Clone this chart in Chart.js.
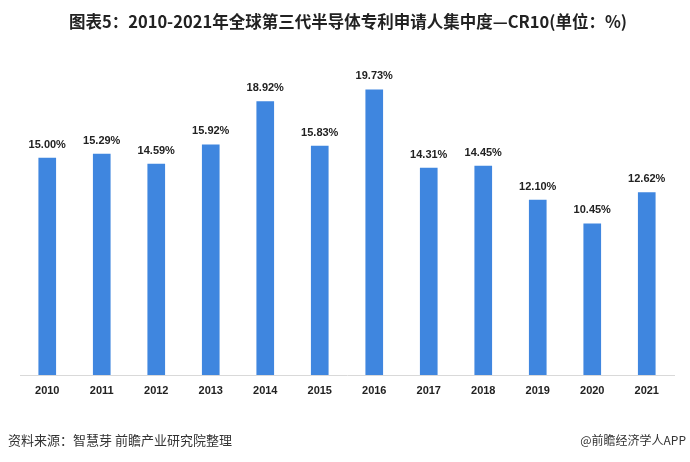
<!DOCTYPE html>
<html>
<head>
<meta charset="utf-8">
<script src="https://cdn.jsdelivr.net/npm/chart.js@4.4.0/dist/chart.umd.min.js"></script>
<style>
  html, body { margin: 0; padding: 0; background: #fff; }
  #wrap { position: relative; width: 690px; height: 462px; overflow: hidden; }
  #title { position: absolute; top: 9px; left: 0; width: 696px; text-align: center;
    font-family: "Noto Sans CJK SC", sans-serif; font-weight: bold; font-size: 16.5px; color: #222; white-space: nowrap; }
  #src { position: absolute; top: 430px; left: 8px; font-family: "Noto Sans CJK SC", sans-serif; font-size: 13px; color: #333; }
  #app { position: absolute; top: 431px; right: 4px; font-family: "Noto Sans CJK SC", sans-serif; font-size: 12px; color: #333; }
  canvas { position: absolute; top: 0; left: 0; }
</style>
</head>
<body>
<div id="wrap">
  <canvas id="c" width="690" height="462"></canvas>
  <div id="title">图表5：2010-2021年全球第三代半导体专利申请人集中度—CR10(单位：%)</div>
  <div id="src">资料来源：智慧芽 前瞻产业研究院整理</div>
  <div id="app">@前瞻经济学人APP</div>
</div>
<script>
const years = ['2010','2011','2012','2013','2014','2015','2016','2017','2018','2019','2020','2021'];
const cr10 = [15.00, 15.29, 14.59, 15.92, 18.92, 15.83, 19.73, 14.31, 14.45, 12.10, 10.45, 12.62];

const labelPlugin = {
  id: 'barLabels',
  afterDatasetsDraw(chart) {
    const ctx = chart.ctx;
    const meta = chart.getDatasetMeta(0);
    ctx.save();
    ctx.font = 'bold 11px "Liberation Sans", Arial, sans-serif';
    ctx.fillStyle = '#222';
    ctx.textAlign = 'center';
    ctx.textBaseline = 'bottom';
    meta.data.forEach((bar, i) => {
      ctx.fillText(cr10[i].toFixed(2) + '%', bar.x, bar.y - 8);
    });
    ctx.restore();
  }
};

new Chart(document.getElementById('c'), {
  type: 'bar',
  data: {
    labels: years,
    datasets: [{
      data: cr10,
      backgroundColor: '#3F86DF',
      barThickness: 17
    }]
  },
  options: {
    responsive: false,
    animation: false,
    layout: { padding: { left: 20, right: 16, top: 57, bottom: 0 } },
    plugins: { legend: { display: false }, tooltip: { enabled: false }, title: { display: false } },
    scales: {
      x: {
        grid: { display: false, drawTicks: false },
        border: { display: true, color: '#d9d9d9', width: 1 },
        ticks: { color: '#222', font: { family: '"Liberation Sans", Arial, sans-serif', weight: 'bold', size: 11 }, padding: 9 },
        afterFit(scale) { scale.height = 87; }
      },
      y: {
        display: false,
        min: 0,
        max: 22
      }
    }
  },
  plugins: [labelPlugin]
});
</script>
</body>
</html>
